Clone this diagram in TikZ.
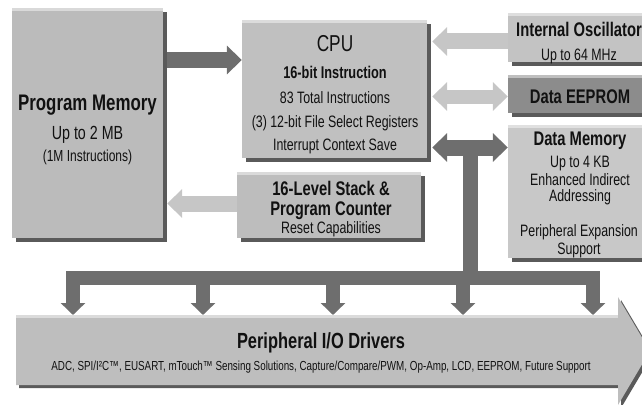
\documentclass[tikz,border=0pt]{standalone}
\usepackage{fontspec}
\setmainfont{Liberation Sans}[FakeStretch=0.75]
\usetikzlibrary{arrows.meta,shadows}
\definecolor{pmfill}{HTML}{BBBBBB}
\definecolor{cpufill}{HTML}{C0C0C0}
\definecolor{stackfill}{HTML}{BDBDBD}
\definecolor{oscfill}{HTML}{C3C3C3}
\definecolor{eepfill}{HTML}{8C8C8C}
\definecolor{dmfill}{HTML}{C8C8C8}
\definecolor{perfill}{HTML}{BEBEBE}
\definecolor{shad}{HTML}{5A5A5A}
\definecolor{darkar}{HTML}{6E6E6E}
\definecolor{lightar}{HTML}{C6C6C6}
\definecolor{ink}{HTML}{111111}
\tikzset{
  Atip/.tip={Triangle[length=15pt, width=28pt]},
  Btip/.tip={Triangle[length=12pt, width=24pt]}
}
\begin{document}
\begin{tikzpicture}[x=1pt,y=-1pt,
  box/.style={fill=#1, inner sep=0pt, draw=none,
    drop shadow={shadow xshift=4pt, shadow yshift=-4pt, fill=shad, opacity=1}},
  bevel/.style={draw=white, opacity=0.45, line width=3pt},
  lbl/.style={inner sep=0pt, anchor=base, text=ink},
  ttl/.style={lbl, font=\fontsize{22.5}{24}\selectfont\bfseries},
  cpuf/.style={lbl, font=\fontsize{23}{25}\selectfont},
  hdr/.style={lbl, font=\fontsize{19.7}{22}\selectfont\bfseries},
  sub/.style={lbl, font=\fontsize{17}{19}\selectfont\bfseries},
  body/.style={lbl, font=\fontsize{16.5}{18}\selectfont},
  big/.style={lbl, font=\fontsize{19}{21}\selectfont},
  tiny/.style={lbl, font=\fontsize{13.1}{15}\selectfont},
  darkconn/.style={draw=darkar, line width=16pt},
  lightconn/.style={draw=lightar, line width=16pt}
]
\useasboundingbox (0,0) rectangle (642,404);
\clip (0,0) rectangle (642,404);

% boxes
\node[box=pmfill, minimum width=151pt, minimum height=230pt] (pm) at (87.5,123) {};
\node[box=cpufill, minimum width=185pt, minimum height=138pt] (cpu) at (334.5,89) {};
\node[box=stackfill, minimum width=184pt, minimum height=66pt] (stack) at (329,205) {};
\node[box=oscfill, minimum width=142pt, minimum height=49pt] (osc) at (579,37.5) {};
\node[box=eepfill, minimum width=142pt, minimum height=38pt] (eep) at (579,94) {};
\node[box=dmfill, minimum width=142pt, minimum height=133pt] (dm) at (579,191.5) {};
\foreach \n in {pm,cpu,stack,osc,eep,dm}
  \draw[bevel] ([yshift=-1.5pt]\n.north west) -- ([yshift=-1.5pt]\n.north east);

% level coordinates
\coordinate (l1) at (0,60);
\coordinate (l2) at (0,41.5);
\coordinate (l3) at (0,96.5);
\coordinate (l4) at (0,147.5);
\coordinate (l5) at (0,203.5);
\coordinate (trunk) at (470.5,147.5);
\coordinate (b1) at (73,277.5);
\coordinate (b2) at (203,277.5);
\coordinate (b3) at (333,277.5);
\coordinate (b4) at (463,277.5);
\coordinate (b5) at (593,277.5);
\coordinate (t1) at (73,315);
\coordinate (t2) at (203,315);
\coordinate (t3) at (333,315);
\coordinate (t4) at (463,315);
\coordinate (t5) at (593,315);
\coordinate (trunkb) at (470.5,277.5);

% connectors
\draw[darkconn, -{Atip}] ([xshift=4pt]pm.east |- l1) -- (cpu.west |- l1);
\draw[lightconn, -{Atip}] (stack.west |- l5) -- ([xshift=4pt]pm.east |- l5);
\draw[lightconn, -{Atip}] (osc.west |- l2) -- ([xshift=5pt]cpu.east |- l2);
\draw[lightconn, line width=14pt, {Atip}-{Atip}] ([xshift=5pt]cpu.east |- l3) -- (eep.west |- l3);
\draw[darkconn, line width=15pt] (trunk) -- (trunkb);
\draw[darkconn, {Atip}-{Atip}] ([xshift=5pt]cpu.east |- l4) -- (dm.west |- l4);

% peripheral arrow
\fill[shad] (19,318) -- (621,318) -- (621,300) -- (653,354) -- (621,408) -- (621,388) -- (19,388) -- cycle;
\fill[perfill] (16,315) -- (618,315) -- (618,297) -- (650,351) -- (618,405) -- (618,385) -- (16,385) -- cycle;
\draw[bevel] (16,316.5) -- (618,316.5);

% bus
\draw[darkconn, line width=14pt, line join=miter, {Btip}-{Btip}] (t1) -- (b1) -- (b5) -- (t5);
\draw[darkconn, line width=14pt, -{Btip}] (b2) -- (t2);
\draw[darkconn, line width=14pt, -{Btip}] (b3) -- (t3);
\draw[darkconn, line width=14pt, -{Btip}] (b4) -- (t4);

% texts
\node[ttl] (pm1) at (87.5,110) {Program Memory};
\node[big] (pm2) at (87.5,139) {Up to 2 MB};
\node[body, font=\fontsize{16}{18}\selectfont] (pm3) at (87.5,161) {(1M Instructions)};

\node[cpuf] (c1) at (335,52) {CPU};
\node[sub] (c2) at (335,78) {16-bit Instruction};
\node[body] (c3) at (335,103) {83 Total Instructions};
\node[body] (c4) at (335,127) {(3) 12-bit File Select Registers};
\node[body] (c5) at (335,150) {Interrupt Context Save};

\node[hdr] (s1) at (331,195) {16-Level Stack \&};
\node[hdr] (s2) at (331,215) {Program Counter};
\node[body] (s3) at (331,233) {Reset Capabilities};

\node[hdr] (o1) at (579,37) {Internal Oscillator};
\node[body] (o2) at (579,60) {Up to 64 MHz};
\node[hdr] (e1) at (580,103) {Data EEPROM};
\node[hdr] (d1) at (580,145) {Data Memory};
\node[body] (d2) at (580,167) {Up to 4 KB};
\node[body] (d3) at (580,185) {Enhanced Indirect};
\node[body] (d4) at (580,201) {Addressing};
\node[body] (d5) at (579,236) {Peripheral Expansion};
\node[body] (d6) at (579,254) {Support};

\node[ttl, font=\fontsize{21.9}{24}\selectfont\bfseries] (p1) at (321,348) {Peripheral I/O Drivers};
\node[tiny] (p2) at (321,370) {ADC, SPI/I²C™, EUSART, mTouch™ Sensing Solutions, Capture/Compare/PWM, Op-Amp, LCD, EEPROM, Future Support};
\end{tikzpicture}
\end{document}
